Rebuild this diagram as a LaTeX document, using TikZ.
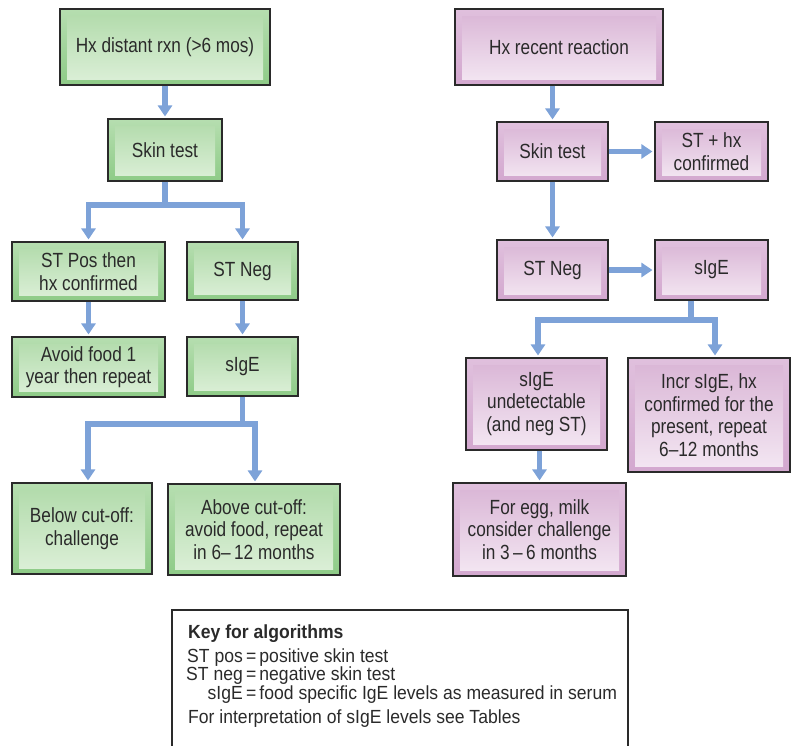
\documentclass[tikz,border=0pt]{standalone}
\usepackage{fontspec}
\setmainfont[FakeStretch=0.84]{Liberation Sans}
\newfontfamily\keyfont[FakeStretch=0.925]{Liberation Sans}
\usetikzlibrary{arrows.meta,shadings}

% palette
\definecolor{gframeT}{HTML}{B6DEB0}
\definecolor{gframeB}{HTML}{8ECB87}
\definecolor{ginT}{HTML}{B0DAA9}
\definecolor{ginB}{HTML}{DDF0D9}
\definecolor{pframeT}{HTML}{E0C0DD}
\definecolor{pframeB}{HTML}{D3A8CF}
\definecolor{pinT}{HTML}{D9B4D5}
\definecolor{pinB}{HTML}{F4E8F3}
\definecolor{flow}{HTML}{7DA2D8}
\definecolor{ink}{HTML}{2A2A2A}

\tikzset{
  box/.style={draw=ink, line width=1.1pt, inner sep=0pt, align=center,
    text=ink, font=\fontsize{20.5}{22.5}\selectfont},
  gbox/.style={box, top color=gframeT, bottom color=gframeB,
    path picture={\shade[top color=ginT, bottom color=ginB]
      ([shift={(7pt,-7pt)}]path picture bounding box.north west) rectangle
      ([shift={(-7pt,6pt)}]path picture bounding box.south east);}},
  pbox/.style={box, top color=pframeT, bottom color=pframeB,
    path picture={\shade[top color=pinT, bottom color=pinB]
      ([shift={(7pt,-7pt)}]path picture bounding box.north west) rectangle
      ([shift={(-7pt,6pt)}]path picture bounding box.south east);}},
  link/.style={draw=flow, line width=5.5pt},
  arr/.style={link, -{Triangle[width=14pt,length=11pt]}, shorten >=2pt},
  keytext/.style={inner sep=0pt, text=ink, font=\keyfont\fontsize{19}{17}\selectfont},
}

\begin{document}
\begin{tikzpicture}[x=1pt, y=-1pt]
\useasboundingbox (0,0) rectangle (792,745);

% ---- distant reaction (green) ----
\node[gbox, minimum width=210pt, minimum height=76pt] (A) at (165,47) {Hx distant rxn (>6 mos)};
\node[gbox, minimum width=114pt, minimum height=62pt] (B) at (165,150) {Skin test};
\node[gbox, minimum width=153pt, minimum height=59pt] (C) at (88.5,271.5) {ST Pos then\\hx confirmed};
\node[gbox, minimum width=111pt, minimum height=58pt] (D) at (242.5,271) {ST Neg};
\node[gbox, minimum width=153pt, minimum height=60pt] (E) at (88.5,367) {Avoid food 1\\year then repeat};
\node[gbox, minimum width=111pt, minimum height=59pt] (F) at (242.5,366.5) {sIgE};
\node[gbox, minimum width=140pt, minimum height=91pt] (G) at (82,528.5) {Below cut-off:\\challenge};
\node[gbox, minimum width=172pt, minimum height=91pt] (H) at (254,529.5) {Above cut-off:\\avoid food, repeat\\in 6–\,12 months};

\draw[arr] (A.south) -- (B.north);
\coordinate (b1) at (165,205);
\draw[link] (B.south) -- (b1);
\draw[arr] (b1) -| (C.north);
\draw[arr] (b1) -| (D.north);
\draw[arr] (C.south) -- (E.north);
\draw[arr] (D.south) -- (F.north);
\coordinate (f1) at (242.5,424);
\draw[link] (F.south) -- (f1);
\draw[arr] (f1) -| ([xshift=6pt]G.north);
\draw[arr] (f1) -| ([xshift=1pt]H.north);

% ---- recent reaction (pink) ----
\node[pbox, minimum width=208pt, minimum height=76pt] (I) at (559,47) {Hx recent reaction};
\node[pbox, minimum width=111pt, minimum height=59pt] (J) at (552.5,151.5) {Skin test};
\node[pbox, minimum width=113pt, minimum height=59pt] (K) at (711.5,151.5) {ST + hx\\confirmed};
\node[pbox, minimum width=111pt, minimum height=60pt] (L) at (552.5,270) {ST Neg};
\node[pbox, minimum width=113pt, minimum height=60pt] (M) at (711.5,270) {sIgE};
\node[pbox, minimum width=141pt, minimum height=92pt] (N) at (536.5,404) {sIgE\\undetectable\\(and neg ST)};
\node[pbox, minimum width=162pt, minimum height=114pt] (O) at (709,415) {Incr sIgE, hx\\confirmed for the\\present, repeat\\6–12 months};
\node[pbox, minimum width=173pt, minimum height=93pt] (P) at (539.5,529.5) {For egg, milk\\consider challenge\\in 3\,–\,6 months};

\draw[arr] (I.south -| J.north) -- (J.north);
\draw[arr] (J.east) -- (K.west);
\draw[arr] (J.south) -- (L.north);
\draw[arr] (L.east) -- (M.west);
\coordinate (m1) at (691,320);
\draw[link] (M.south -| m1) -- (m1);
\draw[arr] (m1) -| ([xshift=1.5pt]N.north);
\draw[arr] (m1) -| ([xshift=6pt]O.north);
\draw[arr] (N.south -| P.north) -- (P.north);

% ---- key ----
\draw[draw=ink, line width=1.1pt] (172,746) -- (172,610) -- (628,610) -- (628,746);
\node[keytext, anchor=base west] (keyhead) at (188,638) {\bfseries Key for algorithms};
\node[keytext, anchor=base west] (keylist) at (186,662)
  {\begin{tabular}[t]{@{}r@{\,=\,}l@{}}
    ST pos & positive skin test\\
    ST neg & negative skin test\\
    sIgE & food specific IgE levels as measured in serum
  \end{tabular}};
\node[keytext, anchor=base west] (keynote) at (188,723) {For interpretation of sIgE levels see Tables};
\end{tikzpicture}
\end{document}
